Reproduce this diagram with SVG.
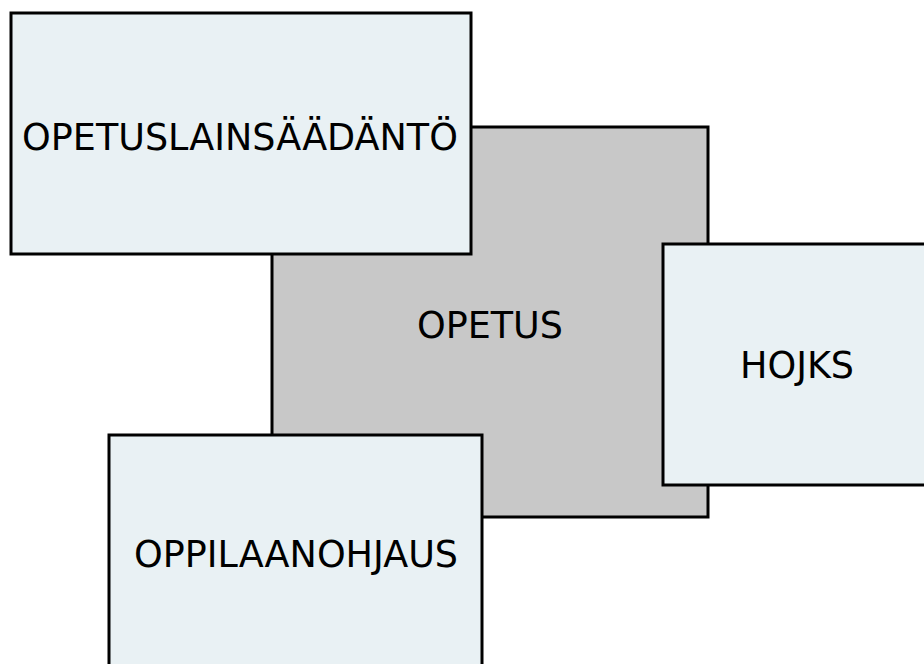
<svg xmlns="http://www.w3.org/2000/svg" width="924" height="664" viewBox="0 0 924 664">
<style>
.box{stroke:#000;stroke-width:3}
.light{fill:#E9F1F4}
.dark{fill:#C8C8C8}
.lbl{font-family:"DejaVu Sans",Verdana,sans-serif;font-size:36.5px;fill:#000;text-anchor:middle}
</style>
<rect width="924" height="664" fill="#fff"/>
<g id="connectors"></g>
<g id="opetus">
<rect class="box dark" x="272" y="127" width="436" height="390"/>
<text class="lbl" x="490" y="338">OPETUS</text>
</g>
<g id="opetuslainsaadanto">
<rect class="box light" x="11" y="13" width="460" height="241"/>
<text class="lbl" x="240" y="150">OPETUSLAINSÄÄDÄNTÖ</text>
</g>
<g id="hojks">
<rect class="box light" x="663" y="244" width="270" height="241"/>
<text class="lbl" x="797" y="378">HOJKS</text>
</g>
<g id="oppilaanohjaus">
<rect class="box light" x="109" y="435" width="373" height="240"/>
<text class="lbl" x="296" y="567">OPPILAANOHJAUS</text>
</g>
</svg>
